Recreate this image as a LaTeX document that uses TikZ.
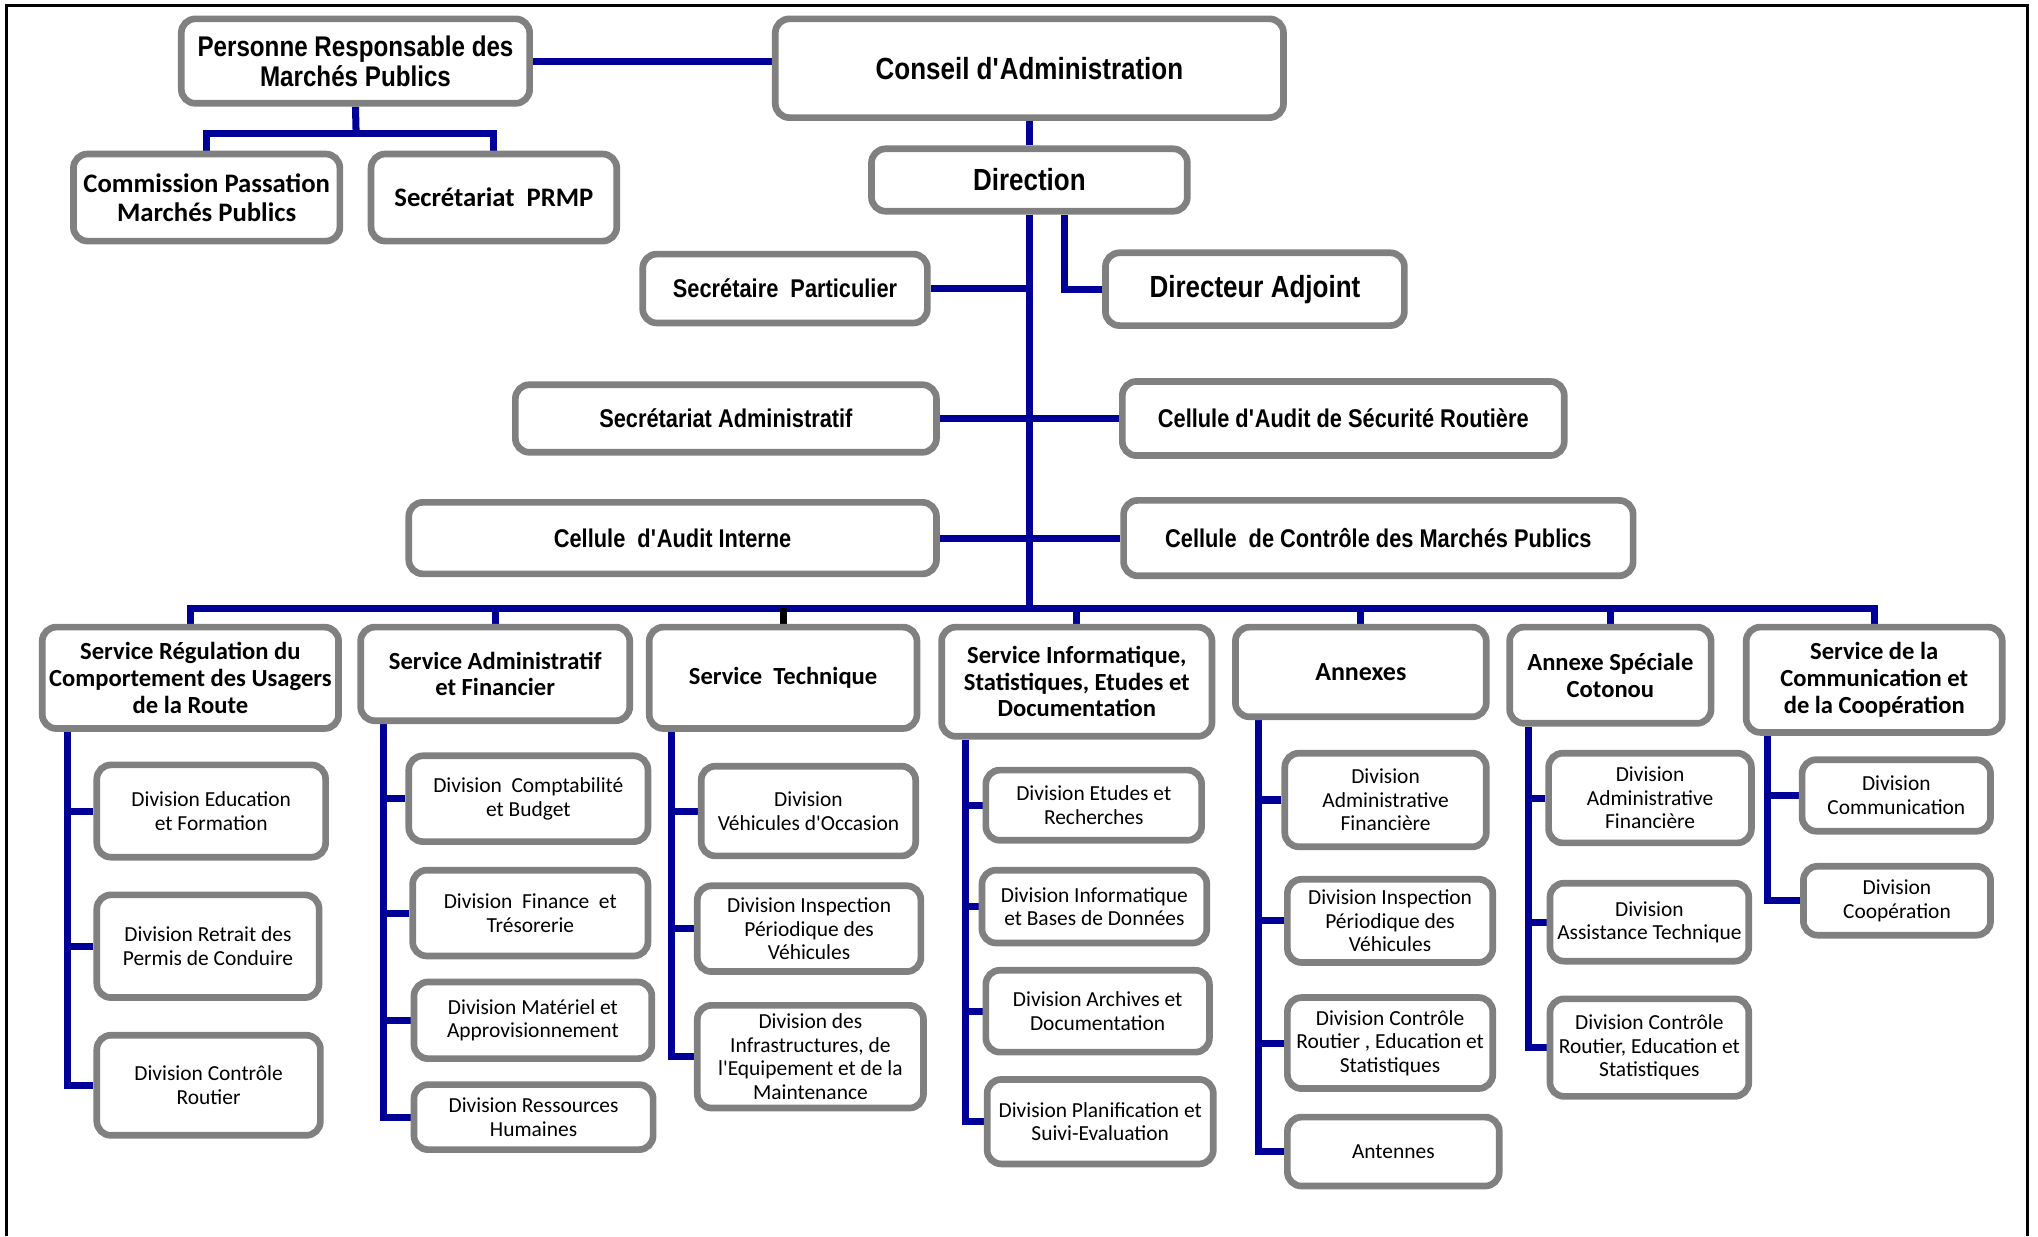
\documentclass[tikz,border=0pt]{standalone}
\usepackage{fontspec}
\usepackage{xcolor}
\usetikzlibrary{calc,backgrounds}
\newfontfamily\narrowfont[FakeStretch=0.85]{Liberation Sans}
\newfontfamily\calfont{Carlito}
\definecolor{boxgray}{RGB}{128,128,128}
\definecolor{linkblue}{RGB}{0,0,153}

\begin{document}
\begin{tikzpicture}[x=0.013cm, y=-0.013cm,
    dims/.style 2 args={minimum width=#1*0.013cm, minimum height=#2*0.013cm},
    unitbox/.style={draw=boxgray, line width=1.9pt, rounded corners=4pt, fill=white, align=center, inner sep=1pt},
    bigbox/.style={unitbox, font=\narrowfont\bfseries\fontsize{8.7}{10}\selectfont},
    prmpbox/.style={unitbox, font=\narrowfont\bfseries\fontsize{8.1}{8.5}\selectfont},
    midbox/.style={unitbox, font=\narrowfont\bfseries\fontsize{7.3}{8}\selectfont},
    calbox/.style={unitbox, font=\calfont\bfseries\fontsize{7.6}{8.1}\selectfont},
    servbox/.style={unitbox, font=\calfont\bfseries\fontsize{7}{7.6}\selectfont},
    divbox/.style={unitbox, font=\calfont\fontsize{6.1}{6.7}\selectfont},
    link/.style={draw=linkblue, line width=2pt}]
\useasboundingbox (0,0) rectangle (1568,951);
% outer frame (open at the bottom)
\draw [line width=0.8pt] (5,951) -- (5,4) -- (1560,4) -- (1560,951);

% Top of the chart
\node [prmpbox, dims={268}{65}] (prmp) at (273.5,47) {Personne Responsable des\\Marchés Publics};
\node [bigbox, dims={391}{76}] (conseil) at (792,52.5) {Conseil d\textquotesingle Administration};
\node [calbox, dims={205}{67}] (cpmp) at (159,152) {Commission Passation\\Marchés Publics};
\node [calbox, dims={189}{67}] (secprmp) at (380,152) {Secrétariat~~PRMP};
\node [bigbox, dims={243}{48}] (direction) at (792,138.5) {Direction};
\node [midbox, dims={219}{53}] (secpart) at (604,222) {Secrétaire~~Particulier};
\node [bigbox, dims={230}{56}] (adjoint) at (965.5,222.5) {Directeur Adjoint};
\node [midbox, dims={324}{52}] (secadm) at (558.5,322) {Secrétariat Administratif};
\node [midbox, dims={340}{57}] (auditsr) at (1033.5,322) {Cellule d\textquotesingle Audit de Sécurité Routière};
\node [midbox, dims={406}{55}] (auditint) at (517.5,414) {Cellule~~d\textquotesingle Audit Interne};
\node [midbox, dims={392}{58}] (ccmp) at (1060.5,414) {Cellule~~de Contrôle des Marchés Publics};

% Services
\node [servbox, dims={228}{78}] (s1) at (146.5,521.5) {Service Régulation du\\Comportement des Usagers\\de la Route};
\node [servbox, dims={207}{72}] (s2) at (381,518.5) {Service Administratif\\et Financier};
\node [servbox, dims={206}{78}] (s3) at (602.5,521.5) {Service~~Technique};
\node [servbox, dims={208}{84}] (s4) at (828.5,524.5) {Service Informatique,\\Statistiques, Etudes et\\Documentation};
\node [servbox, dims={193}{69}, font=\calfont\bfseries\fontsize{7.4}{8}\selectfont] (s5) at (1047,517) {Annexes};
\node [servbox, dims={155}{74}] (s6) at (1239,519.5) {Annexe Spéciale\\Cotonou};
\node [servbox, dims={197}{81}] (s7) at (1442,523) {Service de la\\Communication et\\de la Coopération};

% Divisions
\node [divbox, dims={176}{71}] (d1a) at (162.5,624) {Division Education\\et Formation};
\node [divbox, dims={171}{79}] (d1b) at (160,728) {Division Retrait des\\Permis de Conduire};
\node [divbox, dims={172}{77}] (d1c) at (160.5,835) {Division Contrôle\\Routier};

\node [divbox, dims={184}{66}] (d2a) at (406.5,614.5) {Division~~Comptabilité\\et Budget};
\node [divbox, dims={181}{66}] (d2b) at (408,702.5) {Division~~Finance~~et\\Trésorerie};
\node [divbox, dims={183}{59}] (d2c) at (410,785) {Division Matériel et\\Approvisionnement};
\node [divbox, dims={184}{50}] (d2d) at (410.5,859.5) {Division Ressources\\Humaines};

\node [divbox, dims={165}{69}] (d3a) at (622,624) {Division\\Véhicules d\textquotesingle Occasion};
\node [divbox, dims={172}{66}] (d3b) at (622.5,714.5) {Division Inspection\\Périodique des\\Véhicules};
\node [divbox, dims={174}{79}] (d3c) at (623.5,813) {Division des\\Infrastructures, de\\l\textquotesingle Equipement et de la\\Maintenance};

\node [divbox, dims={166}{54}] (d4a) at (841.5,619.5) {Division Etudes et\\Recherches};
\node [divbox, dims={173}{56}] (d4b) at (842,697.5) {Division Informatique\\et Bases de Données};
\node [divbox, dims={172}{63}] (d4c) at (844.5,778) {Division Archives et\\Documentation};
\node [divbox, dims={174}{65}] (d4d) at (846.5,863) {Division Planification et\\Suivi-Evaluation};

\node [divbox, dims={155}{72}] (d5a) at (1066,615.5) {Division\\Administrative\\Financière};
\node [divbox, dims={158}{64}] (d5b) at (1069.5,708.5) {Division Inspection\\Périodique des\\Véhicules};
\node [divbox, dims={158}{70}] (d5c) at (1069.5,802.5) {Division Contrôle\\Routier , Education et\\Statistiques};
\node [divbox, dims={163}{53}] (d5d) at (1072,886) {Antennes};

\node [divbox, dims={156}{69}] (d6a) at (1269.5,614) {Division\\Administrative\\Financière};
\node [divbox, dims={153}{60}] (d6b) at (1269,709.5) {Division\\Assistance Technique};
\node [divbox, dims={153}{75}] (d6c) at (1269,806) {Division Contrôle\\Routier, Education et\\Statistiques};

\node [divbox, dims={145}{55}] (d7a) at (1459,612) {Division\\Communication};
\node [divbox, dims={144}{53}] (d7b) at (1459.5,693) {Division\\Coopération};

% Connectors
\begin{scope}[on background layer]
    \coordinate (prmpfork) at (274,103);
    \coordinate (bus) at (792,468);
    \draw [link] (prmp.east) -- (prmp.east -| conseil.west);
    \draw [link] (prmp.south) -- (prmpfork);
    \draw [link] (cpmp.north) |- (prmpfork) -| (secprmp.north);
    \draw [link] (conseil.south) -- (direction.north);
    \draw [link] (direction.south) -- (bus);
    \draw [link] ($(direction.south)+(27,0)$) |- (adjoint.west);
    \draw [link] (secpart.east) -- (secpart.east -| bus);
    \draw [link] (secadm.east) -- (auditsr.west);
    \draw [link] (auditint.east) -- (ccmp.west);

    \draw [link] (s1.north) |- (bus) -| (s7.north);
    \foreach \s in {s2,s4,s5,s6}
        \draw [link] (\s.north) -- (\s.north |- bus);
    \draw [line width=2pt] (s3.north) -- (s3.north |- bus);

    \foreach \s/\dx/\last in {s1/22/d1c, s2/20/d2d, s3/20/d3c, s4/21/d4d, s5/20/d5d, s6/17/d6c, s7/19/d7b} {
        \coordinate (\s-rail) at ($(\s.south west)+(\dx,0)$);
        \draw [link] (\s-rail) |- (\last.west);
    }
    \foreach \d/\s in {d1a/s1, d1b/s1, d2a/s2, d2b/s2, d2c/s2, d3a/s3, d3b/s3,
                       d4a/s4, d4b/s4, d4c/s4, d5a/s5, d5b/s5, d5c/s5, d6a/s6, d6b/s6, d7a/s7}
        \draw [link] (\d.west) -- (\d.west -| \s-rail);
\end{scope}
\end{tikzpicture}
\end{document}
